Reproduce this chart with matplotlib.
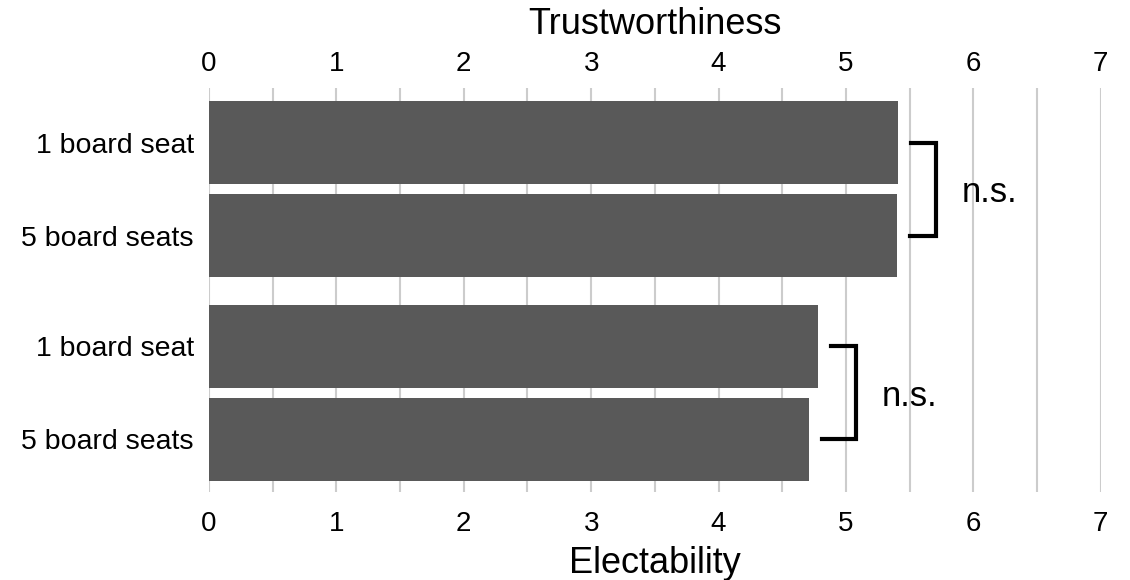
import numpy as np
import matplotlib
matplotlib.use("Agg")
import matplotlib.pyplot as plt

plt.rcParams['font.family'] = ['Liberation Sans', 'DejaVu Sans']

# data
labels = ['1 board seat', '5 board seats', '1 board seat', '5 board seats']
values = [5.41, 5.40, 4.78, 4.71]
pairs = [(0, 1), (2, 3)]
pair_text = ['n.s.', 'n.s.']

# bar positions: two groups of two
ypos = np.array([0, 1, 2.19, 3.19])

fig = plt.figure(figsize=(11.3, 5.8), dpi=100)
ax = fig.add_axes([0.185, 0.152, 0.789, 0.696])

ax.barh(ypos, values, height=0.89, color='#595959', zorder=2)

ax.set_xlim(0, 7)
ax.set_ylim(3.755, -0.586)
ax.set_xticks(range(8))
ax.set_xticks(np.arange(0.5, 7, 1), minor=True)
ax.grid(axis='x', which='both', color='#cccccc', linewidth=1.5, zorder=0)
ax.set_yticks(ypos)
ax.set_yticklabels(labels, fontsize=20.5)
ax.tick_params(axis='y', length=0, pad=11)
ax.tick_params(axis='x', which='both', length=0, labelsize=20, pad=14)
for s in ax.spines.values():
    s.set_visible(False)
ax.set_xlabel('Electability', fontsize=26, labelpad=6)

top = ax.secondary_xaxis('top')
top.set_xticks(range(8))
top.tick_params(length=0, labelsize=20, pad=8)
top.spines['top'].set_visible(False)
top.set_xlabel('Trustworthiness', fontsize=26, labelpad=12)

# significance brackets
for (i, j), txt in zip(pairs, pair_text):
    xv = max(values[i], values[j]) + 0.3
    ax.plot([values[i] + 0.1, xv, xv, values[j] + 0.1],
            [ypos[i], ypos[i], ypos[j], ypos[j]],
            color='black', lw=3, solid_joinstyle='miter', zorder=3)
    ax.text(xv + 0.2, (ypos[i] + ypos[j]) / 2, txt, fontsize=25,
            va='center_baseline', ha='left', zorder=3)

fig.savefig('out.png', dpi=100)
